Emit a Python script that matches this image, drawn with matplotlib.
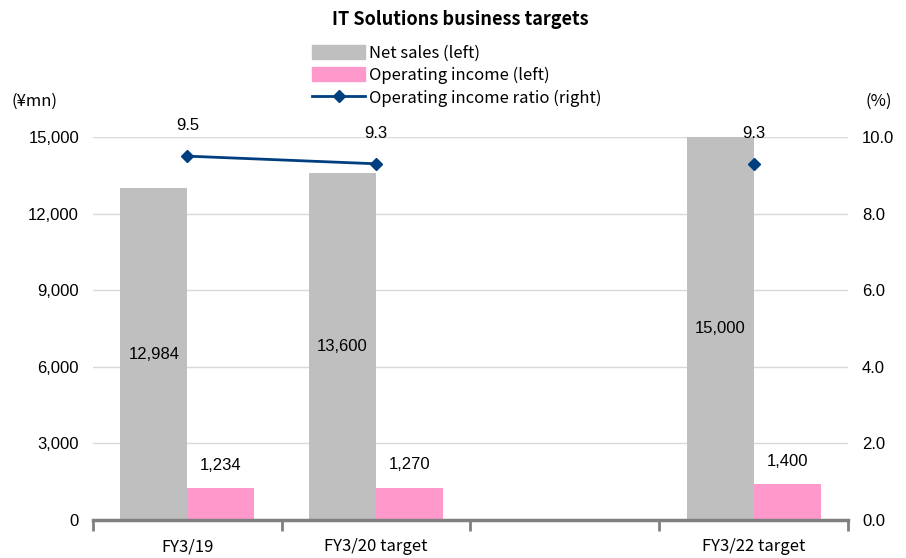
import numpy as np
import matplotlib.pyplot as plt
from matplotlib.patches import Patch
from matplotlib.lines import Line2D

# Data
categories = ['FY3/19', 'FY3/20 target', '', 'FY3/22 target']
net_sales = [12984, 13600, np.nan, 15000]
op_income = [1234, 1270, np.nan, 1400]
op_ratio = [9.5, 9.3, np.nan, 9.3]

gray = '#BFBFBF'
pink = '#FF99CC'
navy = '#003F7F'
jp = ['Noto Sans CJK JP', 'DejaVu Sans']
num = 'Liberation Sans'

fig = plt.figure(figsize=(9.06, 5.58), dpi=100)
ax = fig.add_axes([0.1026, 0.0681, 0.8334, 0.6864])
ax2 = ax.twinx()

ind = np.arange(len(categories))
width = 0.355

ax.bar(ind - width / 2, net_sales, width, color=gray, zorder=2)
ax.bar(ind + width / 2, op_income, width, color=pink, zorder=2)

for i in ind:
    if not np.isnan(net_sales[i]):
        ax.text(i - width / 2, net_sales[i] / 2, f'{int(net_sales[i]):,}',
                ha='center', va='center', fontsize=12, family=num)
        ax.text(i + width / 2, op_income[i] + 600, f'{int(op_income[i]):,}',
                ha='center', va='bottom', fontsize=12, family=num)

ax.set_ylim(0, 15000)
ax.set_yticks(np.arange(0, 15001, 3000))
ax.set_yticklabels([f'{v:,}' for v in range(0, 15001, 3000)], family=num, fontsize=12)
ax.grid(axis='y', color='#D9D9D9', linewidth=1, zorder=0)
ax.set_axisbelow(True)
ax.tick_params(axis='y', length=0, pad=10)

ax.set_xlim(-0.5, len(categories) - 0.5)
ax.set_xticks(ind)
ax.set_xticklabels(categories, family=jp, fontsize=12)
ax.tick_params(axis='x', length=0, pad=13)
ax.set_xticks(np.arange(-0.5, len(categories)), minor=True)
ax.tick_params(axis='x', which='minor', length=8, width=2, color='#808080')

for s in ['left', 'right', 'top']:
    ax.spines[s].set_visible(False)
    ax2.spines[s].set_visible(False)
ax.spines['bottom'].set_color('#808080')
ax.spines['bottom'].set_linewidth(2.5)
ax2.spines['bottom'].set_visible(False)

# Line on right axis
ax2.plot(ind, op_ratio, color=navy, linewidth=2, marker='D', markersize=6, zorder=3)
for i in ind:
    if not np.isnan(op_ratio[i]):
        ax2.text(i, op_ratio[i] + 0.6, f'{op_ratio[i]:.1f}', ha='center', va='bottom',
                 fontsize=12, family=num)
ax2.set_ylim(0, 10)
ax2.set_yticks(np.arange(0, 10.1, 2))
ax2.set_yticklabels([f'{v:.1f}' for v in np.arange(0, 10.1, 2)], family=num, fontsize=12)
ax2.tick_params(axis='y', length=0, pad=10)

fig.text(0.508, 0.965, 'IT Solutions business targets', ha='center', va='center',
         fontsize=13, weight='bold', family=jp)
fig.text(0.013, 0.818, '(¥mn)', ha='left', va='center', fontsize=12, family=jp)
fig.text(0.955, 0.818, '(%)', ha='left', va='center', fontsize=12, family=jp)

handles = [Patch(color=gray), Patch(color=pink),
           Line2D([], [], color=navy, linewidth=2, marker='D', markersize=6)]
labels = ['Net sales (left)', 'Operating income (left)', 'Operating income ratio (right)']
fig.legend(handles, labels, loc='upper left', bbox_to_anchor=(0.335, 0.935),
           frameon=False, prop={'family': jp, 'size': 12}, handlelength=3.2,
           handleheight=0.9, handletextpad=0.2, labelspacing=0.32, borderpad=0)

fig.savefig('out.png', dpi=100)
